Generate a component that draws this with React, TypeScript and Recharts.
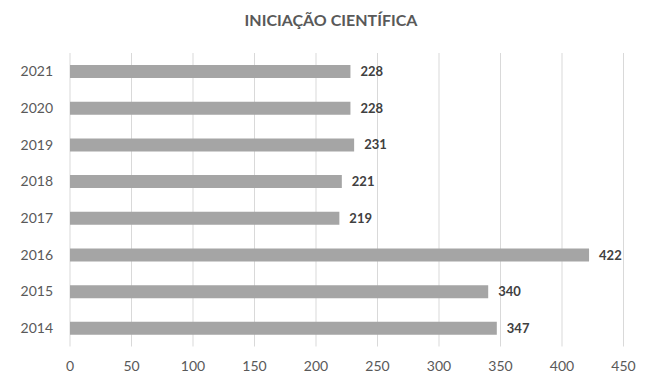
import React from "react";
import { BarChart, Bar, XAxis, YAxis, CartesianGrid, LabelList } from "recharts";

const years = ["2014", "2015", "2016", "2017", "2018", "2019", "2020", "2021"];
const values = [347, 340, 422, 219, 221, 231, 228, 228];
const xTicks = [0, 50, 100, 150, 200, 250, 300, 350, 400, 450];
const title = "INICIAÇÃO CIENTÍFICA";

const data = years.map((y, i) => ({ year: y, value: values[i] }));

const font = "Lato, 'Open Sans', sans-serif";

export default function App() {
  return (
    <div style={{ position: "absolute", left: 0, top: 0, width: 647, height: 373, background: "#fff", fontFamily: font }}>
      <div
        style={{
          position: "absolute",
          left: 0,
          width: 662,
          top: 10,
          textAlign: "center",
          fontSize: 16,
          fontWeight: 700,
          color: "#595959",
          fontFamily: font,
          lineHeight: "20px",
        }}
      >
        {title}
      </div>
      <BarChart
        width={647}
        height={373}
        data={data}
        layout="vertical"
        margin={{ top: 53, right: 23.5, bottom: 0, left: 0 }}
        barCategoryGap={0}
      >
        <CartesianGrid horizontal={false} vertical={true} stroke="#d9d9d9" strokeWidth={1} />
        <XAxis
          type="number"
          domain={[0, 450]}
          ticks={xTicks}
          axisLine={false}
          tickLine={false}
          tickSize={0}
          tickMargin={15}
          height={26.5}
          interval={0}
          tick={{ fill: "#595959", fontSize: 14, fontFamily: font }}
        />
        <YAxis
          type="category"
          dataKey="year"
          reversed
          width={70}
          axisLine={false}
          tickLine={false}
          tickSize={0}
          tickMargin={17}
          interval={0}
          tick={{ fill: "#595959", fontSize: 14, fontFamily: font }}
        />
        <Bar dataKey="value" fill="#a5a5a5" barSize={13} isAnimationActive={false}>
          <LabelList
            dataKey="value"
            position="right"
            offset={10}
            style={{ fill: "#404040", fontSize: 13, fontWeight: 700, fontFamily: font }}
          />
        </Bar>
      </BarChart>
    </div>
  );
}
